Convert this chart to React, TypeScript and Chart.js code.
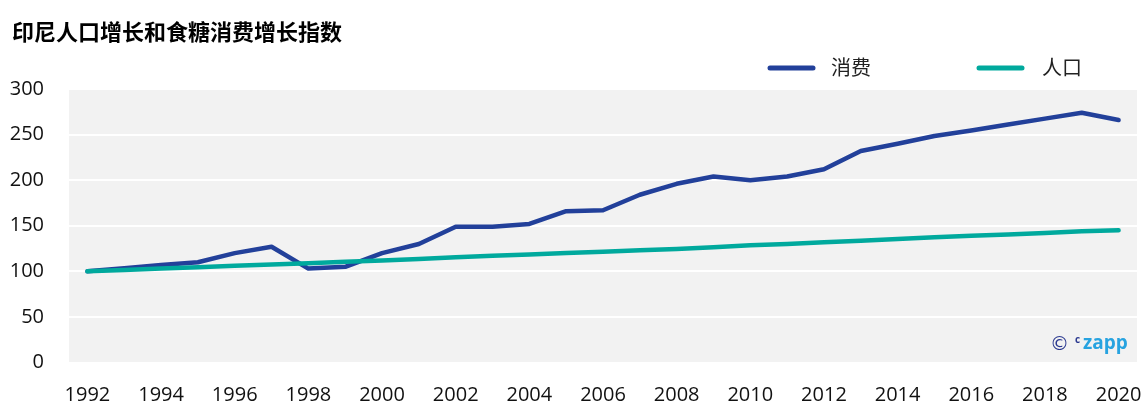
import React, { useEffect, useRef } from "react";
import { Chart, registerables } from "chart.js";

Chart.register(...registerables);

const years: string[] = [
  "1992", "1993", "1994", "1995", "1996", "1997", "1998", "1999", "2000", "2001",
  "2002", "2003", "2004", "2005", "2006", "2007", "2008", "2009", "2010", "2011",
  "2012", "2013", "2014", "2015", "2016", "2017", "2018", "2019", "2020",
];

const consumption: number[] = [
  100, 103.5, 107, 110, 120, 127, 103, 105, 120, 130,
  149, 149, 152, 166, 167, 184, 196, 204, 200, 204,
  212, 232, 240, 248.5, 254.5, 261, 267.5, 274, 266,
];

const population: number[] = [
  100, 101.5, 103, 104.5, 106, 107.5, 109, 110.5, 112, 113.5,
  115.5, 117, 118.5, 120, 121.5, 123, 124.5, 126.5, 128.5, 130,
  132, 133.5, 135.5, 137.5, 139, 140.5, 142, 144, 145,
];

const yTicks: number[] = [0, 50, 100, 150, 200, 250, 300];

const titleText = "印尼人口增长和食糖消费增长指数";
const seriesNames = ["消费", "人口"];
const seriesColors = ["#22409A", "#00A99D"];

const bgPlugin = {
  id: "plotBg",
  beforeDraw(chart: any) {
    const { ctx, chartArea } = chart;
    ctx.save();
    ctx.fillStyle = "#F2F2F2";
    ctx.fillRect(chartArea.left, chartArea.top, chartArea.right - chartArea.left, chartArea.bottom - chartArea.top);
    ctx.restore();
  },
};

const decorPlugin = {
  id: "decor",
  afterDraw(chart: any) {
    const { ctx } = chart;
    ctx.save();
    // title
    ctx.fillStyle = "#000000";
    ctx.font = "bold 22px 'Noto Sans CJK SC'";
    ctx.textBaseline = "middle";
    ctx.textAlign = "left";
    ctx.fillText(titleText, 12, 32);

    // legend
    const items = [
      { x1: 770, x2: 813, tx: 831 },
      { x1: 979, x2: 1022, tx: 1042 },
    ];
    items.forEach((it, i) => {
      ctx.strokeStyle = seriesColors[i];
      ctx.lineWidth = 5;
      ctx.lineCap = "round";
      ctx.beginPath();
      ctx.moveTo(it.x1, 68);
      ctx.lineTo(it.x2, 68);
      ctx.stroke();
      ctx.fillStyle = "#222222";
      ctx.font = "20px 'Noto Sans CJK SC'";
      ctx.textBaseline = "middle";
      ctx.fillText(seriesNames[i], it.tx, 67);
    });

    // logo
    ctx.textBaseline = "alphabetic";
    ctx.fillStyle = "#2B3990";
    ctx.font = "19px 'DejaVu Sans'";
    ctx.fillText("©", 1050, 350);
    ctx.font = "bold 10px 'Open Sans'";
    ctx.fillText("c", 1075, 343);
    ctx.fillStyle = "#27A3E0";
    ctx.font = "bold 19px 'Open Sans'";
    ctx.fillText("zapp", 1083, 349);
    ctx.restore();
  },
};

export default function App() {
  const ref = useRef<HTMLCanvasElement | null>(null);

  useEffect(() => {
    if (!ref.current) return;
    const chart = new Chart(ref.current, {
      type: "line",
      data: {
        labels: years,
        datasets: [
          {
            label: seriesNames[0],
            data: consumption,
            borderColor: seriesColors[0],
            backgroundColor: seriesColors[0],
            borderWidth: 4.5,
            pointRadius: 0,
            tension: 0,
            borderCapStyle: "round",
            borderJoinStyle: "round",
            order: 1,
          },
          {
            label: seriesNames[1],
            data: population,
            borderColor: seriesColors[1],
            backgroundColor: seriesColors[1],
            borderWidth: 4.5,
            pointRadius: 0,
            tension: 0,
            borderCapStyle: "round",
            borderJoinStyle: "round",
            order: 0,
          },
        ],
      },
      options: {
        responsive: false,
        animation: false,
        devicePixelRatio: 1,
        layout: { padding: { top: 89, left: 0, right: 8, bottom: 0 } },
        plugins: {
          legend: { display: false },
          title: { display: false },
          tooltip: { enabled: false },
        },
        scales: {
          x: {
            type: "category",
            offset: true,
            grid: { display: false, drawTicks: false },
            border: { display: false },
            ticks: {
              autoSkip: false,
              maxRotation: 0,
              padding: 21,
              color: "#111111",
              font: { family: "'Open Sans'", size: 20 },
              callback: function (this: any, _v: any, idx: number) {
                return idx % 2 === 0 ? years[idx] : "";
              },
            },
            afterFit(scale: any) {
              scale.height = 57.5;
              scale.paddingLeft = 0;
              scale.paddingRight = 0;
            },
          },
          y: {
            min: 0,
            max: 300,
            grid: { color: "#FFFFFF", lineWidth: 2, drawTicks: false },
            border: { display: false },
            afterBuildTicks(scale: any) {
              scale.ticks = yTicks.map((v) => ({ value: v }));
            },
            ticks: {
              padding: 25,
              color: "#111111",
              font: { family: "'Open Sans'", size: 20 },
              callback: (v: any) => String(v),
            },
            afterFit(scale: any) {
              scale.width = 69;
              scale.paddingTop = 0;
              scale.paddingBottom = 0;
            },
          },
        },
      },
      plugins: [bgPlugin, decorPlugin],
    });
    return () => chart.destroy();
  }, []);

  return (
    <div style={{ position: "absolute", left: 0, top: 0, width: 1145, height: 420, background: "#fff" }}>
      <canvas ref={ref} width={1145} height={420} style={{ display: "block" }} />
    </div>
  );
}
